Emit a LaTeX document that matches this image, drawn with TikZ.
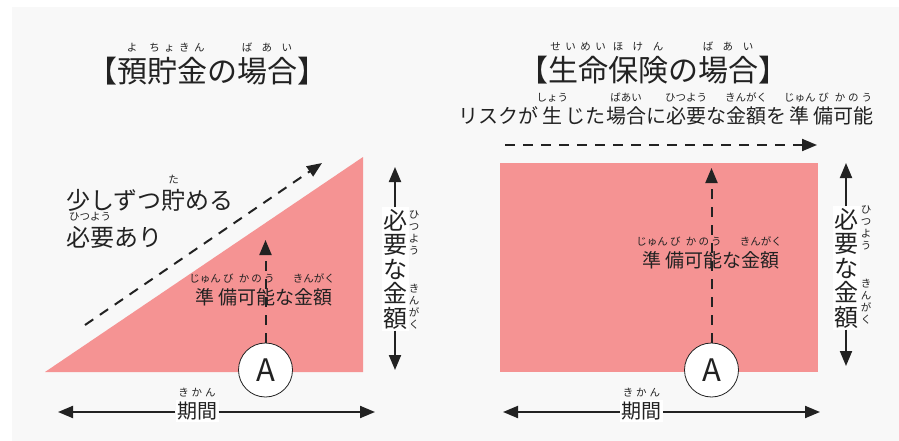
\documentclass[tikz,border=0pt]{standalone}
\usepackage{fontspec}
\setmainfont{Noto Sans CJK JP}
\usetikzlibrary{arrows.meta}
\definecolor{bgg}{HTML}{F8F8F8}
\definecolor{pinkfill}{HTML}{F59393}
\definecolor{ink}{HTML}{222222}
\newcommand\rubyfont{\fontsize{10.5}{11}\selectfont}
\newcommand\rb[2]{\leavevmode\begingroup
 \setbox2\hbox{#1}\setbox4\hbox{\rubyfont #2}%
 \dimen4=\dimexpr\wd4-4pt\relax
 \ifdim\dimen4>\wd2 \dimen2=\dimen4 \else \dimen2=\wd2 \fi
 \ifdim\wd4>\dimen2 \dimen6=\wd4 \else \dimen6=\dimen2 \fi
 \setbox6\hbox to\dimen6{\hskip0pt plus .5fil\rubyfont #2\hskip0pt plus .5fil}%
 \setbox6\hbox{\raise\dimexpr0.88em+4.6pt\relax\box6}\ht6=0pt \dp6=0pt
 \hbox to\dimen2{\hbox to 0pt{\hskip.5\dimen2\hbox to 0pt{\hss\box6\hss}\hss}\hss\box2\hss}%
 \endgroup}
\tikzset{
  every node/.style={inner sep=0pt, text=ink},
  arr/.style={line width=2pt, draw=ink, -{Triangle[length=15pt,width=12pt]}},
  darr/.style={line width=2pt, draw=ink, dash pattern=on 10pt off 8pt, -{Triangle[length=15pt,width=12pt]}},
  circA/.style={circle, draw=ink, line width=0.8pt, fill=white, minimum size=54pt, font=\fontsize{31}{31}\selectfont},
  vlab/.style={fill=white, inner sep=1.5pt, align=center, font=\fontsize{24}{24.5}\selectfont},
  vruby/.style={align=center, font=\fontsize{10.5}{12}\selectfont},
  hlab/.style={fill=white, inner sep=1.5pt, font=\fontsize{20}{20}\selectfont},
  amount/.style={font=\fontsize{19}{19}\selectfont},
  title/.style={font=\fontsize{#1}{#1}\selectfont}
}
\begin{document}
\begin{tikzpicture}[x=1pt,y=-1pt]
\useasboundingbox (0,0) rectangle (899,441);
\fill[white] (0,0) rectangle (899,441);
\fill[bgg] (12,7) rectangle (899,441);

% ---------- left panel ----------
\node[title=30] (t1) at (207,71) {【\rb{預}{よ}\rb{貯金}{ち\hfil ょ\hfil き\hfil ん}の\rb{場合}{ば\hfil あ\hfil い}】};
\fill[pinkfill] (45,372) -- (363,372) -- (363,157) -- cycle;
\coordinate (d1) at (85,325);
\coordinate (d2) at (322,163);
\draw[darr] (d1) -- (d2);
\node[anchor=west, font=\fontsize{24}{24}\selectfont] (s1) at (66,200) {少しずつ\rb{貯}{た}める};
\node[anchor=west, font=\fontsize{24}{24}\selectfont] (s2) at (66,237) {\rb{必要}{ひつよう}あり};
\node[amount] (m1) at (262,297) {\rb{準}{じゅん}\rb{備}{び}\rb{可能}{か\hfil の\hfil う}な\rb{金額}{き\hfil ん\hfil が\hfil く}};
\node[circA] (ca) at (265.5,370) {A};
\coordinate (ua) at (265.5,240);
\draw[darr] (ca.north) -- (ua);
% vertical amount arrow
\node[vlab] (v1) at (395,269) {必\\要\\な\\金\\額};
\node[vruby] (r1a) at (414,233) {ひ\\つ\\よ\\う};
\node[vruby] (r1b) at (414,307) {き\\ん\\が\\く};
\coordinate (v1t) at (395,167);
\coordinate (v1b) at (395,370);
\draw[arr] (v1.north) -- (v1t);
\draw[arr] (v1.south) -- (v1b);
% period arrow
\node[hlab] (k1) at (197,411) {\rb{期間}{き\hfil か\hfil ん}};
\coordinate (k1l) at (58,412);
\coordinate (k1r) at (375,412);
\draw[arr] (k1.west |- k1l) -- (k1l);
\draw[arr] (k1.east |- k1r) -- (k1r);

% ---------- right panel ----------
\node[title=30] (t2) at (653,70) {【\rb{生命}{せ\hfil い\hfil め\hfil い}\rb{保険}{ほ\hfil け\hfil ん}の\rb{場合}{ば\hfil あ\hfil い}】};
\node[font=\fontsize{20}{20}\selectfont] (sub) at (666,116) {リスクが\rb{生}{しょう}じた\rb{場合}{ばあい}に\rb{必要}{ひつよう}な\rb{金額}{きんがく}を\rb{準}{じゅん}\rb{備}{び}\rb{可能}{か\hfil の\hfil う}};
\coordinate (h1) at (505,145);
\coordinate (h2) at (817,145);
\draw[darr] (h1) -- (h2);
\fill[pinkfill] (500,163) rectangle (818,372);
\node[circA] (cb) at (711.5,370) {A};
\coordinate (ub) at (711.5,168);
\draw[darr] (cb.north) -- (ub);
\node[amount] (m2) at (709,260) {\rb{準}{じゅん}\rb{備}{び}\rb{可能}{か\hfil の\hfil う}な\rb{金額}{き\hfil ん\hfil が\hfil く}};
% vertical amount arrow
\node[vlab] (v2) at (846,268) {必\\要\\な\\金\\額};
\node[vruby] (r2a) at (866,228) {ひ\\つ\\よ\\う};
\node[vruby] (r2b) at (866,302) {き\\ん\\が\\く};
\coordinate (v2t) at (846,163);
\coordinate (v2b) at (846,366);
\draw[arr] (v2.north) -- (v2t);
\draw[arr] (v2.south) -- (v2b);
% period arrow
\node[hlab] (k2) at (641.5,411) {\rb{期間}{き\hfil か\hfil ん}};
\coordinate (k2l) at (503,412);
\coordinate (k2r) at (820,412);
\draw[arr] (k2.west |- k2l) -- (k2l);
\draw[arr] (k2.east |- k2r) -- (k2r);
\end{tikzpicture}
\end{document}
